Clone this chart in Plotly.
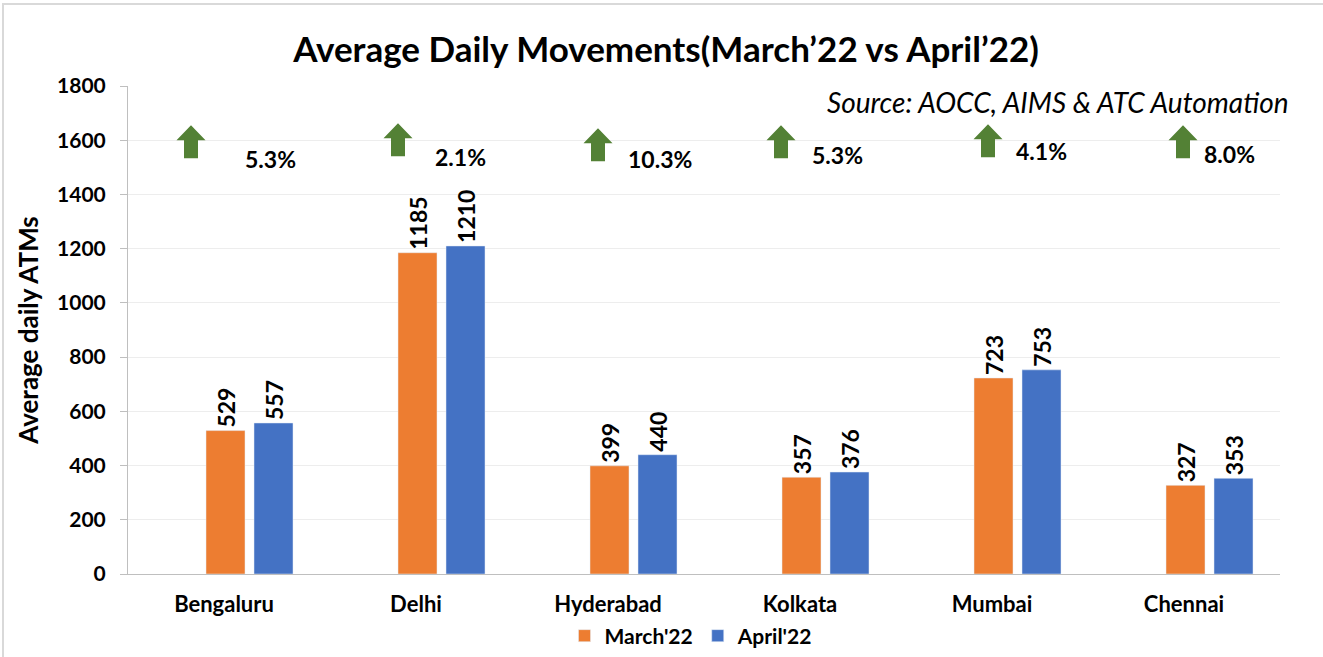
import plotly.graph_objects as go

# 데이터
cities = ["Bengaluru", "Delhi", "Hyderabad", "Kolkata", "Mumbai", "Chennai"]
march_22 = [529, 1185, 399, 357, 723, 327]
april_22 = [557, 1210, 440, 376, 753, 353]
growth_labels = ["5.3%", "2.1%", "10.3%", "5.3%", "4.1%", "8.0%"]

ORANGE = "#ED7D31"
BLUE = "#4472C4"
GREEN = "#538135"
FONT = "Lato"

# 플롯 영역 (픽셀)
L, R, T, B = 128, 1280, 86, 574
W, H = 1323, 657
PW, PH = R - L, B - T

# 화살표/퍼센트 위치 보정 (픽셀)
arrow_dx = [-33, -18, -10, -19, -4, -1]
arrow_dy = [0, 2, -3, 0, 1, 0]
pct_dx = [46, 44, 52, 37, 49, 45]
pct_dy = [-3, -1, -3, 1, 5, 2]

fig = go.Figure()

bar_w = 39 / 192
fig.add_trace(go.Bar(
    x=cities, y=march_22, name="<b>March'22</b>",
    marker_color=ORANGE, width=bar_w, offset=-18 / 192,
    text=march_22, textposition="outside", textangle=-90,
    textfont=dict(family=FONT, size=23, color="#000000"),
    cliponaxis=False, constraintext="none",
))
fig.add_trace(go.Bar(
    x=cities, y=april_22, name="<b>April'22</b>",
    marker_color=BLUE, width=bar_w, offset=30 / 192,
    text=april_22, textposition="outside", textangle=-90,
    textfont=dict(family=FONT, size=23, color="#000000"),
    cliponaxis=False, constraintext="none",
))
fig.update_traces(texttemplate="<b>%{text}</b>")

shapes = []
annotations = []
for i, lab in enumerate(growth_labels):
    dx = arrow_dx[i]
    dy = arrow_dy[i]
    path = (f"M {dx-14.5},{dy} L {dx},{dy+15} L {dx+14.5},{dy} L {dx+7},{dy} "
            f"L {dx+7},{dy-18} L {dx-7},{dy-18} L {dx-7},{dy} Z")
    shapes.append(dict(
        type="path", xref="x", yref="y",
        xsizemode="pixel", ysizemode="pixel",
        xanchor=i, yanchor=1600, path=path,
        fillcolor=GREEN, line=dict(width=0),
    ))
    annotations.append(dict(
        x=i, y=1540, xref="x", yref="y", text=f"<b>{lab}</b>",
        showarrow=False, xshift=pct_dx[i], yshift=pct_dy[i],
        font=dict(family=FONT, size=23, color="#000000"),
    ))

# 외곽 테두리
shapes.append(dict(
    type="rect", xref="paper", yref="paper",
    x0=(3 - L) / PW, x1=(W + 2 - L) / PW, y0=(B - H - 5) / PH, y1=(B - 4) / PH,
    line=dict(color="#D9D9D9", width=2), fillcolor="rgba(0,0,0,0)", layer="below",
))

annotations.append(dict(
    x=(1291 - L) / PW, y=(B - 102) / PH, xref="paper", yref="paper",
    xanchor="right", yanchor="middle", showarrow=False,
    text="<i>Source: AOCC, AIMS & ATC Automation</i>",
    font=dict(family=FONT, size=28, color="#000000"),
))

fig.update_layout(
    width=W, height=H,
    margin=dict(l=L, r=W - R, t=T, b=H - B, autoexpand=False),
    paper_bgcolor="white", plot_bgcolor="white",
    barmode="overlay",
    title=dict(
        text="<b>Average Daily Movements(March’22 vs April’22)</b>",
        x=666 / W, xanchor="center", y=1 - 50 / H, yanchor="middle",
        font=dict(family=FONT, size=35, color="#000000"),
    ),
    font=dict(family=FONT, color="#000000"),
    shapes=shapes,
    annotations=annotations,
    showlegend=True,
    legend=dict(
        orientation="h", x=(691 - L) / PW, xanchor="center",
        y=1 - 636 / H, yref="container", yanchor="middle",
        font=dict(family=FONT, size=21, color="#000000"),
        itemwidth=30, traceorder="normal",
    ),
)

fig.update_xaxes(
    showline=True, linecolor="#BFBFBF", linewidth=1,
    showgrid=False, ticks="",
    tickfont=dict(family=FONT, size=22, color="#000000"),
    ticklabelstandoff=11,
    tickprefix="<b>", ticksuffix="</b>",
)
fig.update_yaxes(
    range=[0, 1800], dtick=200,
    showline=True, linecolor="#BFBFBF", linewidth=1,
    ticks="outside", ticklen=7, tickcolor="#BFBFBF",
    showgrid=True, gridcolor="#EDEDED", gridwidth=1,
    zeroline=False,
    tickfont=dict(family=FONT, size=21, color="#000000"),
    ticklabelstandoff=10,
    tickprefix="<b>", ticksuffix="</b>",
    title=dict(text="<b>Average daily ATMs</b>", standoff=10,
               font=dict(family=FONT, size=26, color="#000000")),
    tickformat="d",
)

# 브라우저 기본 body 여백 제거
fig.write_html("out.html", config={"displayModeBar": False},
               post_script="document.body.style.margin='0';")
